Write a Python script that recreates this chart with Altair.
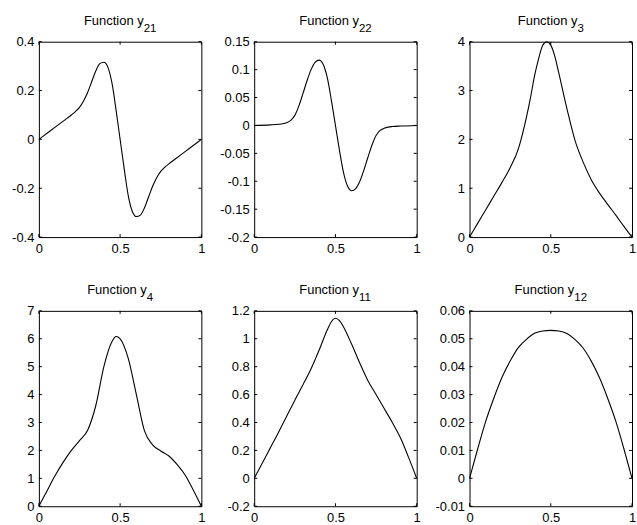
import altair as alt
import pandas as pd

# ---------------- data ----------------
X_TICKS = [0, 0.5, 1]

x21 = [0, 0.05, 0.1, 0.15, 0.2, 0.225, 0.25, 0.275, 0.3, 0.325, 0.35, 0.375, 0.4, 0.425, 0.45, 0.475, 0.5,
       0.525, 0.55, 0.575, 0.6, 0.625, 0.65, 0.675, 0.7, 0.725, 0.75, 0.775, 0.8, 0.85, 0.9, 0.95, 1]
y21 = [0, 0.025, 0.05, 0.075, 0.1, 0.114, 0.131, 0.157, 0.192, 0.236, 0.28, 0.31, 0.316, 0.295, 0.23, 0.12, 0,
       -0.12, -0.23, -0.295, -0.316, -0.31, -0.28, -0.236, -0.192, -0.157, -0.131, -0.114, -0.1, -0.075, -0.05, -0.025, 0]
t21 = [-0.4, -0.2, 0, 0.2, 0.4]

x22 = [0, 0.1, 0.15, 0.175, 0.2, 0.225, 0.25, 0.275, 0.3, 0.325, 0.35, 0.375, 0.4, 0.425, 0.45, 0.475, 0.5,
       0.525, 0.55, 0.575, 0.6, 0.625, 0.65, 0.675, 0.7, 0.725, 0.75, 0.775, 0.8, 0.825, 0.85, 0.9, 1]
y22 = [0, 0.001, 0.002, 0.003, 0.005, 0.009, 0.018, 0.035, 0.057, 0.08, 0.1, 0.113, 0.117, 0.109, 0.085, 0.045, 0,
       -0.045, -0.085, -0.109, -0.117, -0.113, -0.1, -0.08, -0.057, -0.035, -0.018, -0.009, -0.005, -0.003, -0.002, -0.001, 0]
t22 = [-0.2, -0.15, -0.1, -0.05, 0, 0.05, 0.1, 0.15]

x3 = [0, 0.05, 0.1, 0.15, 0.2, 0.25, 0.3, 0.35, 0.375, 0.4, 0.425, 0.45, 0.475, 0.5, 0.525, 0.55,
      0.6, 0.65, 0.7, 0.75, 0.8, 0.85, 0.9, 0.95, 1]
y3 = [0, 0.28, 0.56, 0.84, 1.12, 1.42, 1.8, 2.45, 2.85, 3.3, 3.65, 3.92, 4.0, 3.93, 3.7, 3.35,
      2.62, 1.97, 1.53, 1.17, 0.9, 0.67, 0.45, 0.22, 0]
t3 = [0, 1, 2, 3, 4]

x4 = [0, 0.05, 0.1, 0.15, 0.2, 0.25, 0.3, 0.35, 0.4, 0.45, 0.475, 0.5, 0.55, 0.6, 0.65, 0.7,
      0.75, 0.8, 0.85, 0.9, 0.95, 1]
y4 = [0, 0.55, 1.1, 1.58, 2.0, 2.35, 2.72, 3.6, 5.0, 5.9, 6.08, 6.0, 5.3, 4.0, 2.7, 2.2,
      1.98, 1.8, 1.5, 1.12, 0.58, 0]
t4 = [0, 1, 2, 3, 4, 5, 6, 7]

x11 = [0, 0.05, 0.1, 0.15, 0.2, 0.25, 0.3, 0.35, 0.4, 0.45, 0.475, 0.5, 0.525, 0.55, 0.6, 0.65, 0.7, 0.75,
       0.8, 0.85, 0.9, 0.95, 1]
y11 = [0, 0.11, 0.22, 0.33, 0.445, 0.56, 0.67, 0.785, 0.92, 1.065, 1.122, 1.147, 1.13, 1.085, 0.96, 0.825, 0.7, 0.6,
       0.5, 0.4, 0.29, 0.15, 0]
t11 = [-0.2, 0, 0.2, 0.4, 0.6, 0.8, 1, 1.2]

x12 = [0, 0.05, 0.1, 0.15, 0.2, 0.25, 0.3, 0.35, 0.4, 0.45, 0.5, 0.55, 0.6, 0.65, 0.7, 0.75,
       0.8, 0.85, 0.9, 0.95, 1]
y12 = [0, 0.0105, 0.0205, 0.0288, 0.0362, 0.042, 0.0468, 0.0498, 0.052, 0.0528, 0.053, 0.0528,
       0.0519, 0.0497, 0.0466, 0.0419, 0.036, 0.0287, 0.0205, 0.0106, 0]
t12 = [-0.01, 0, 0.01, 0.02, 0.03, 0.04, 0.05, 0.06]

subs = ["21", "22", "3", "4", "11", "12"]
xs_all = [x21, x22, x3, x4, x11, x12]
ys_all = [y21, y22, y3, y4, y11, y12]
ticks_all = [t21, t22, t3, t4, t11, t12]

# ---------------- styling ----------------
W, H = 163, 196
FONT = "Liberation Sans"
TITLE_FS = 13
SUB_FS = 11.5
MAIN_W = 60.0          # approximate rendered width of "Function y"
DIGIT_W = 6.4          # approximate width of one subscript digit
TICK_LEN = 3
LABEL_EXPR = "replace(datum.label, '\u2212', '-')"


def panel(sub, xs, ys, yticks):
    df = pd.DataFrame({"x": xs, "y": ys})
    xsc = alt.Scale(domain=[0, 1], nice=False, zero=False)
    ysc = alt.Scale(domain=[yticks[0], yticks[-1]], nice=False, zero=False)
    xax = alt.Axis(values=X_TICKS, format="~g", title=None, ticks=False, domain=False,
                   grid=False, labelPadding=5, labelFlush=False)
    yax = alt.Axis(values=yticks, format="~g", labelExpr=LABEL_EXPR, title=None, ticks=False,
                   domain=False, grid=False, labelPadding=5)

    line = alt.Chart(df).mark_line(color="black", strokeWidth=1.1, interpolate="monotone").encode(
        x=alt.X("x:Q", scale=xsc, axis=xax),
        y=alt.Y("y:Q", scale=ysc, axis=yax),
    )
    ytdf = pd.DataFrame({"v": yticks})
    xtdf = pd.DataFrame({"v": X_TICKS})
    yl = alt.Chart(ytdf).mark_rule(color="black", strokeWidth=1).encode(
        y=alt.Y("v:Q", scale=ysc, axis=yax), x=alt.value(0), x2=alt.value(TICK_LEN))
    yr = alt.Chart(ytdf).mark_rule(color="black", strokeWidth=1).encode(
        y=alt.Y("v:Q", scale=ysc, axis=yax), x=alt.value(W - TICK_LEN), x2=alt.value(W))
    xb = alt.Chart(xtdf).mark_rule(color="black", strokeWidth=1).encode(
        x=alt.X("v:Q", scale=xsc, axis=xax), y=alt.value(H - TICK_LEN), y2=alt.value(H))
    xt = alt.Chart(xtdf).mark_rule(color="black", strokeWidth=1).encode(
        x=alt.X("v:Q", scale=xsc, axis=xax), y=alt.value(0), y2=alt.value(TICK_LEN))

    split = W / 2 + (MAIN_W - DIGIT_W * len(sub)) / 2
    tmain = alt.Chart(pd.DataFrame({"t": ["Function y"]})).mark_text(
        align="right", baseline="alphabetic", font=FONT, fontSize=TITLE_FS, color="black"
    ).encode(text="t:N", x=alt.value(split), y=alt.value(-17))
    tsub = alt.Chart(pd.DataFrame({"t": [sub]})).mark_text(
        align="left", baseline="alphabetic", font=FONT, fontSize=SUB_FS, color="black"
    ).encode(text="t:N", x=alt.value(split), y=alt.value(-9.5))

    return alt.layer(line, yl, yr, xb, xt, tmain, tsub).properties(width=W, height=H)


charts = [panel(s, xx, yy, tt) for s, xx, yy, tt in zip(subs, xs_all, ys_all, ticks_all)]

chart = alt.concat(
    *charts, columns=3, spacing={"row": 74, "column": 53}, bounds="flush"
).properties(
    padding={"left": 11, "top": 13, "right": 0, "bottom": 0},
    background="white",
).configure_view(
    stroke="black", strokeWidth=1
).configure_axis(
    labelFont=FONT, labelFontSize=13, labelColor="black"
)

chart.save("out.html", embed_options={"renderer": "svg", "actions": False})
